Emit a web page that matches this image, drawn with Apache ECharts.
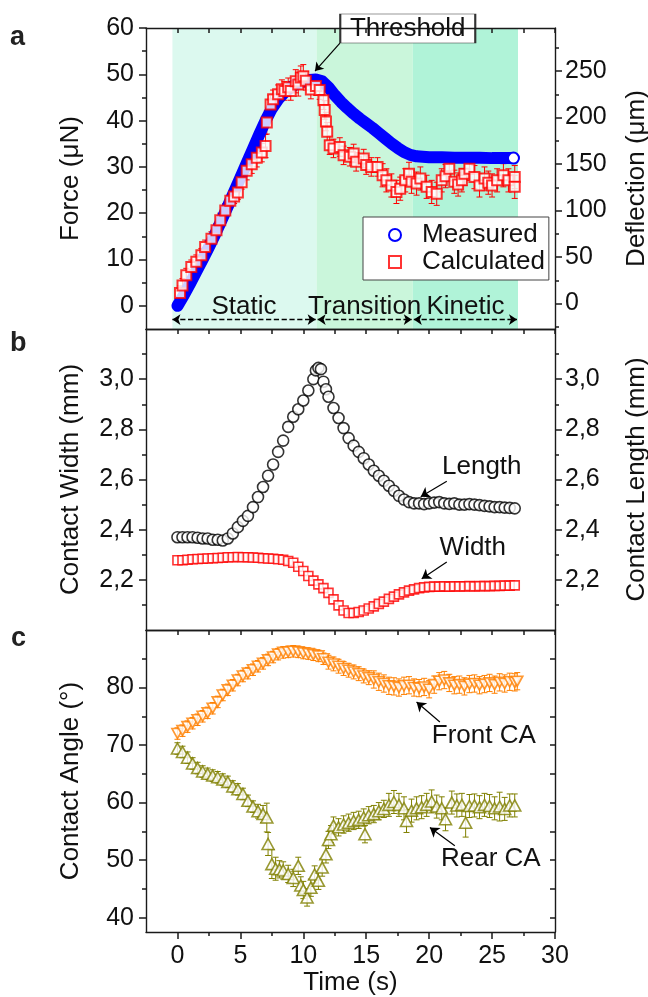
<!DOCTYPE html>
<html><head><meta charset="utf-8">
<script src="https://cdn.jsdelivr.net/npm/echarts@6.0.0/dist/echarts.min.js"></script>
<style>html,body{margin:0;padding:0;background:#fff}#c{width:648px;height:997px}</style>
</head><body><div id="c"></div>
<script>
// ---------- data ----------
const timeTicks = [0, 5, 10, 15, 20, 25, 30];
const timeMinor = [2.5, 7.5, 12.5, 17.5, 22.5, 27.5];
const forceTicks = [0, 10, 20, 30, 40, 50, 60];
const forceMinor = [5, 15, 25, 35, 45, 55];
const deflTicks = [0, 50, 100, 150, 200, 250];
const deflMinor = [-25, 25, 75, 125, 175, 225, 275];
const contactTicks = [2.2, 2.4, 2.6, 2.8, 3.0];
const contactMinor = [2.1, 2.3, 2.5, 2.7, 2.9, 3.1];
const angleTicks = [40, 50, 60, 70, 80];
const angleMinor = [45, 55, 65, 75, 85];

const phaseNames = ['Static', 'Transition', 'Kinetic'];
const phaseStart = [-0.4, 11.06, 18.7];
const phaseEnd = [11.06, 18.7, 27.06];

const measuredT = [0,0.5,1,1.5,2,2.5,3,3.5,4,4.5,5,5.5,6,6.5,7,7.5,8,8.5,9,9.5,10,10.5,11,11.5,12,12.5,13,13.5,14,14.5,15,15.5,16,16.5,17,17.5,18,18.5,19,19.5,20,21,22,23,24,25,26,26.7];
const measuredF = [0,2.3,4.8,7.4,10,12.7,15.5,18.5,21.5,24.6,27.7,30.8,33.9,37.0,40.0,42.6,44.6,46.1,47.2,48.0,48.5,48.8,48.9,48.5,47.2,45.5,44.0,42.7,41.5,40.4,39.4,38.4,37.3,36.2,35.1,34.1,33.2,32.6,32.3,32.2,32.1,32.1,32.0,32.0,32.0,31.9,31.9,31.9];

// [time, force, error]
const calcData = [
[0.2,2.8,1.5],[0.4,4.4,1.5],[0.7,6.6,1.5],[1.1,8.4,1.5],[1.5,9.5,1.5],[1.9,10.9,1.5],[2.2,12.7,1.5],[2.7,14.5,1.5],[3.1,16.3,1.5],[3.4,18.5,1.5],[3.8,20.6,1.5],[4.2,22.7,1.5],[4.5,23.6,1.5],[4.8,24.5,1.5],[5.1,26.7,1.5],[5.5,29.2,2],[5.9,30.6,2],[6.3,32.0,2],[6.7,33.1,2],[7.0,34.5,2.5],[7.1,39.6,2.5],[7.4,43.5,2],[7.6,44.6,2],[8.0,45.7,2],[8.3,46.8,2],[8.5,46.4,2],[8.8,47.2,2],[9.0,46.4,2],[9.4,48.5,2.5],[9.6,47.8,2.5],[9.8,49.3,2.5],[10.0,49.6,2.5],[10.2,48.6,2],[10.6,46.7,2],[11.0,47.5,2],[11.3,46.6,2],[11.6,44.4,2],[11.7,42.3,2],[11.8,39.8,2],[11.9,37.6,2],[12.1,34.7,2],[12.4,34.0,2],[12.9,34.3,2],[13.2,32.5,2],[13.7,32.2,2],[14.0,32.9,2],[14.2,31.1,2],[14.8,31.8,2],[15.0,30.4,2],[15.4,30.0,2],[15.9,30.0,2],[16.3,28.2,2.5],[16.6,27.1,2.5],[17.0,26.0,2.5],[17.4,24.6,2.5],[17.7,25.3,2.5],[18.1,27.1,2.5],[18.4,28.5,2.5],[18.6,26.8,2.5],[19.0,26.4,2.5],[19.3,27.5,2.5],[19.8,25.7,2.5],[20.2,24.6,2.5],[20.6,24.2,2.5],[21.0,27.1,2.5],[21.3,28.0,2.5],[21.6,29.6,2.5],[22.0,26.8,2.5],[22.3,26.2,2.5],[22.6,27.1,2.5],[22.8,28.5,2.5],[23.2,29.6,2.5],[23.6,27.8,2.5],[24.0,26.0,2.5],[24.4,27.5,2.5],[24.7,26.6,2.5],[25.0,26.0,2.5],[25.4,27.1,2.5],[25.9,28.2,2.5],[26.3,27.1,2.5],[26.8,27.8,2.5],[26.8,25.7,2.5]
];

// [time, mm]
const lengthData = [
[0,2.37],[0.4,2.37],[0.8,2.37],[1.2,2.37],[1.6,2.368],[2.0,2.365],[2.4,2.365],[2.8,2.36],[3.2,2.36],[3.6,2.357],[4.0,2.365],[4.4,2.385],[4.8,2.41],[5.2,2.435],[5.6,2.455],[6.0,2.49],[6.4,2.53],[6.8,2.57],[7.2,2.615],[7.6,2.66],[8.0,2.71],[8.4,2.755],[8.8,2.81],[9.2,2.85],[9.6,2.88],[10.0,2.915],[10.4,2.955],[10.8,3.0],[11.0,3.035],[11.2,3.045],[11.4,3.04],[11.6,2.99],[11.8,2.96],[12.0,2.93],[12.4,2.885],[12.8,2.845],[13.2,2.805],[13.6,2.765],[14.0,2.735],[14.4,2.71],[14.8,2.685],[15.2,2.66],[15.6,2.635],[16.0,2.615],[16.4,2.595],[16.8,2.575],[17.2,2.555],[17.6,2.535],[18.0,2.52],[18.4,2.51],[18.8,2.505],[19.2,2.505],[19.6,2.502],[20.0,2.505],[20.4,2.508],[20.8,2.51],[21.2,2.505],[21.6,2.503],[22.0,2.505],[22.4,2.5],[22.8,2.5],[23.2,2.502],[23.6,2.5],[24.0,2.498],[24.4,2.495],[24.8,2.493],[25.2,2.49],[25.6,2.49],[26.0,2.488],[26.4,2.487],[26.8,2.485]
];
const widthData = [
[0,2.278],[0.4,2.278],[0.8,2.28],[1.2,2.282],[1.6,2.283],[2.0,2.284],[2.4,2.285],[2.8,2.286],[3.2,2.287],[3.6,2.288],[4.0,2.29],[4.4,2.29],[4.8,2.291],[5.2,2.29],[5.6,2.29],[6.0,2.289],[6.4,2.288],[6.8,2.286],[7.2,2.285],[7.6,2.284],[8.0,2.282],[8.4,2.28],[8.8,2.275],[9.2,2.268],[9.6,2.252],[10.0,2.235],[10.4,2.215],[10.8,2.197],[11.2,2.182],[11.6,2.167],[12.0,2.148],[12.4,2.122],[12.8,2.098],[13.2,2.078],[13.6,2.068],[14.0,2.068],[14.4,2.072],[14.8,2.078],[15.2,2.086],[15.6,2.094],[16.0,2.104],[16.4,2.113],[16.8,2.124],[17.2,2.133],[17.6,2.142],[18.0,2.15],[18.4,2.157],[18.8,2.162],[19.2,2.167],[19.6,2.17],[20.0,2.172],[20.4,2.173],[20.8,2.173],[21.2,2.174],[21.6,2.173],[22.0,2.174],[22.4,2.174],[22.8,2.174],[23.2,2.175],[23.6,2.174],[24.0,2.175],[24.4,2.175],[24.8,2.175],[25.2,2.176],[25.6,2.176],[26.0,2.177],[26.4,2.177],[26.8,2.178]
];

// [time, degrees, error]
const frontData = [
[0,72.0,1],[0.4,72.5,1],[0.8,73.2,1],[1.2,73.8,1],[1.6,74.4,1],[2.0,75.0,1],[2.4,75.6,1],[2.8,76.4,1],[3.2,77.5,1],[3.6,78.7,1],[4.0,79.6,1],[4.4,80.4,1],[4.8,81.3,1],[5.2,82.0,1],[5.6,82.5,1],[6.0,83.1,1],[6.4,83.7,1],[6.8,84.2,1],[7.2,84.8,1],[7.6,85.3,1],[8.0,85.8,1],[8.4,86.1,1],[8.8,86.2,1],[9.2,86.3,1],[9.6,86.2,1],[10.0,86.0,1],[10.4,85.9,1],[10.8,85.7,1],[11.2,85.5,1],[11.6,85.0,1],[12.0,84.4,1.2],[12.4,84.1,1.2],[12.8,83.7,1.2],[13.2,83.3,1.2],[13.6,83.0,1.2],[14.0,82.7,1.2],[14.4,82.4,1.2],[14.8,82.0,1.2],[15.2,81.7,1.2],[15.6,81.4,1.5],[16.0,81.0,1.5],[16.4,80.7,1.5],[16.8,80.3,1.5],[17.2,80.2,1.5],[17.6,80.0,1.5],[18.0,80.3,1.5],[18.4,80.4,1.5],[18.8,80.0,1.5],[19.2,79.9,1.5],[19.6,80.1,1.5],[20.0,79.7,1.5],[20.4,80.5,1.5],[20.8,81.1,1.5],[21.2,81.3,1.5],[21.6,80.8,1.5],[22.0,80.4,1.5],[22.4,80.5,1.5],[22.8,80.2,1.5],[23.2,80.6,1.5],[23.6,80.7,1.5],[24.0,80.4,1.5],[24.4,80.6,1.5],[24.8,80.8,1.5],[25.2,80.5,1.5],[25.6,80.9,1.5],[26.0,80.7,1.5],[26.4,81.0,1.5],[26.8,80.9,1.5],[27.0,81.1,1.5]
];
const rearData = [
[0,69.4,1],[0.4,68.8,1],[0.8,67.8,1],[1.2,66.8,1],[1.6,66.0,1],[2.0,65.4,1],[2.4,65.0,1],[2.8,64.7,1],[3.2,64.4,1],[3.6,64.0,1],[4.0,63.6,1],[4.4,62.8,1],[4.8,62.3,1],[5.2,61.5,1],[5.6,60.3,1],[6.0,59.3,1],[6.4,58.5,1.2],[6.8,58.0,1.5],[7.1,57.4,2.5],[7.2,52.8,2],[7.5,49.3,2.5],[7.8,48.5,2],[8.1,48.4,1.5],[8.4,48.2,1.5],[8.8,47.6,1.5],[9.2,46.9,1.5],[9.6,49.0,1.5],[9.8,45.6,1.5],[10.0,44.8,1.5],[10.3,43.5,1.5],[10.6,45.2,1.5],[10.9,47.5,1.5],[11.2,46.4,1.5],[11.5,48.7,1.5],[11.8,51.0,1.5],[12.0,53.5,1.5],[12.2,54.5,1.5],[12.4,56.0,1.5],[12.8,55.7,1.5],[13.2,56.2,1.5],[13.6,56.5,1.5],[14.0,56.8,1.5],[14.4,57.0,1.5],[14.8,57.4,1.5],[14.9,54.5,1.5],[15.2,57.8,1.5],[15.6,58.0,1.5],[16.0,58.5,1.5],[16.4,58.9,1.5],[16.8,59.6,2],[17.2,60.1,2],[17.6,59.6,2],[18.0,59.0,2],[18.2,56.8,2],[18.6,58.6,2],[19.0,59.0,2],[19.4,59.2,2],[19.8,59.6,2],[20.2,60.2,2],[20.6,59.3,2],[21.0,59.0,2],[21.3,57.1,2],[21.8,60.0,2],[22.2,59.5,2],[22.6,59.6,2],[22.9,56.5,2.5],[23.2,59.4,2],[23.6,59.5,2],[24.0,59.2,2],[24.4,59.6,2],[24.8,59.4,2],[25.2,59.0,2],[25.6,59.3,2.5],[26.0,58.9,2],[26.4,59.5,2],[26.8,59.5,2]
];

// ---------- style ----------
const FONT = '"Liberation Sans", Arial, Helvetica, sans-serif';
const AX = '#1a1a1a';
const TXT = '#111';
const BLUE = '#0000ff', RED = '#ff0000', ORANGE = '#ff8000', OLIVE = '#808000';
const phaseColors = ['#dcf9ef', '#caf6db', '#b0f3d8'];
const X_MIN = -2.5, X_MAX = 30;
const F_MIN = -5, F_MAX = 60;
const D_MIN = -27.4, D_MAX = 296.3;
const C_MIN = 2.0, C_MAX = 3.2;
const A_MIN = 37.5, A_MAX = 90;

const grids = [
  {left: 146, right: 93, top: 28, height: 301, outerBoundsMode: 'none', containLabel: false},
  {left: 146, right: 93, top: 329, height: 301, outerBoundsMode: 'none', containLabel: false},
  {left: 146, right: 93, top: 630, height: 302, outerBoundsMode: 'none', containLabel: false}
];

function axisBase(extra) {
  return Object.assign({
    type: 'value', z: 5, splitLine: {show: false},
    axisLine: {show: true, onZero: false, lineStyle: {color: AX, width: 1.4}},
    axisTick: {show: false}, axisLabel: {show: false}
  }, extra);
}
const hiddenLine = {show: false, onZero: false};
function ticks(vals, len, inside) {
  return {show: true, inside: !!inside, length: len, customValues: vals, lineStyle: {color: AX, width: 1.5}};
}
function labels(vals, fmt, margin) {
  return {show: true, customValues: vals, fontSize: 25, fontFamily: FONT, color: TXT, margin: margin, formatter: fmt};
}
const nameStyle = {fontSize: 26, fontFamily: FONT, color: TXT};
const comma = v => v.toFixed(1).replace('.', ',');

const xAxes = [], yAxes = [];
const XI = [], YL = [], YR = [];
for (let g = 0; g < 3; g++) {
  XI[g] = xAxes.length;
  const bottom = axisBase({gridIndex: g, min: X_MIN, max: X_MAX, position: 'bottom'});
  if (g === 2) {
    bottom.axisTick = ticks(timeTicks, 7, false);
    bottom.axisLabel = labels(timeTicks, v => String(v), 12);
    bottom.name = 'Time (s)';
    bottom.nameLocation = 'middle';
    bottom.nameGap = 36;
    bottom.nameTextStyle = nameStyle;
  }
  xAxes.push(bottom);
  if (g === 2) {
    xAxes.push(axisBase({gridIndex: g, min: X_MIN, max: X_MAX, position: 'bottom', axisLine: hiddenLine, axisTick: ticks(timeMinor, 4, false)}));
  }
  xAxes.push(axisBase({gridIndex: g, min: X_MIN, max: X_MAX, position: 'top', axisTick: ticks(timeTicks.concat(timeMinor), 5, true)}));
}

// panel a
YL[0] = yAxes.length;
yAxes.push(axisBase({gridIndex: 0, min: F_MIN, max: F_MAX, position: 'left', axisTick: ticks(forceTicks, 7), axisLabel: labels(forceTicks, v => String(v), 12),
  name: 'Force (\u03bcN)', nameLocation: 'middle', nameGap: 62, nameRotate: 90, nameTextStyle: nameStyle}));
yAxes.push(axisBase({gridIndex: 0, min: F_MIN, max: F_MAX, position: 'left', axisLine: hiddenLine, axisTick: ticks(forceMinor, 4)}));
YR[0] = yAxes.length;
yAxes.push(axisBase({gridIndex: 0, min: D_MIN, max: D_MAX, position: 'right', axisTick: ticks(deflTicks, 7), axisLabel: labels(deflTicks, v => String(v), 10),
  name: 'Deflection (\u03bcm)', nameLocation: 'middle', nameGap: 69, nameRotate: 90, nameTextStyle: nameStyle}));
yAxes.push(axisBase({gridIndex: 0, min: D_MIN, max: D_MAX, position: 'right', axisLine: hiddenLine, axisTick: ticks(deflMinor, 4)}));
// panel b
YL[1] = yAxes.length;
yAxes.push(axisBase({gridIndex: 1, min: C_MIN, max: C_MAX, position: 'left', axisTick: ticks(contactTicks, 7), axisLabel: labels(contactTicks, comma, 12),
  name: 'Contact Width (mm)', nameLocation: 'middle', nameGap: 62, nameRotate: 90, nameTextStyle: nameStyle}));
yAxes.push(axisBase({gridIndex: 1, min: C_MIN, max: C_MAX, position: 'left', axisLine: hiddenLine, axisTick: ticks(contactMinor, 4)}));
YR[1] = yAxes.length;
yAxes.push(axisBase({gridIndex: 1, min: C_MIN, max: C_MAX, position: 'right', axisTick: ticks(contactTicks, 7), axisLabel: labels(contactTicks, comma, 10),
  name: 'Contact Length (mm)', nameLocation: 'middle', nameGap: 69, nameRotate: 90, nameTextStyle: nameStyle}));
yAxes.push(axisBase({gridIndex: 1, min: C_MIN, max: C_MAX, position: 'right', axisLine: hiddenLine, axisTick: ticks(contactMinor, 4)}));
// panel c
YL[2] = yAxes.length;
yAxes.push(axisBase({gridIndex: 2, min: A_MIN, max: A_MAX, position: 'left', axisTick: ticks(angleTicks, 7), axisLabel: labels(angleTicks, v => String(v), 12),
  name: 'Contact Angle (\u00b0)', nameLocation: 'middle', nameGap: 62, nameRotate: 90, nameTextStyle: nameStyle}));
yAxes.push(axisBase({gridIndex: 2, min: A_MIN, max: A_MAX, position: 'left', axisLine: hiddenLine, axisTick: ticks(angleMinor, 4)}));
YR[2] = yAxes.length;
yAxes.push(axisBase({gridIndex: 2, min: A_MIN, max: A_MAX, position: 'right', axisTick: ticks(angleTicks.concat(angleMinor), 5, true)}));

function errSeries(data, g, yi, color, cap) {
  return {
    type: 'custom', xAxisIndex: XI[g], yAxisIndex: yi, silent: true, z: 2,
    data: data,
    renderItem: function (p, api) {
      const x = api.value(0), y = api.value(1), e = api.value(2);
      const lo = api.coord([x, y - e]), hi = api.coord([x, y + e]);
      const st = {stroke: color, lineWidth: 1};
      return {type: 'group', children: [
        {type: 'line', shape: {x1: lo[0], y1: lo[1], x2: hi[0], y2: hi[1]}, style: st},
        {type: 'line', shape: {x1: hi[0] - cap, y1: hi[1], x2: hi[0] + cap, y2: hi[1]}, style: st},
        {type: 'line', shape: {x1: lo[0] - cap, y1: lo[1], x2: lo[0] + cap, y2: lo[1]}, style: st}
      ]};
    }
  };
}
const annLabel = {show: true, position: 'inside', fontSize: 26, fontFamily: FONT, color: TXT};
function textPoint(text, coord) {
  return {coord: coord, symbol: 'rect', symbolSize: [1, 1], itemStyle: {color: 'rgba(0,0,0,0)'}, label: Object.assign({formatter: text}, annLabel)};
}
function arrowLine(from, to) {
  return [{coord: from, symbol: 'none', label: {show: false}}, {coord: to, symbol: 'arrow'}];
}
const solidArrowLine = {silent: true, animation: false, symbolSize: 9, lineStyle: {color: '#000', width: 1.2, type: 'solid'}, label: {show: false}};

const measuredData = measuredT.map((t, i) => i === measuredT.length - 1
  ? {value: [t, measuredF[i]], symbol: 'circle', symbolSize: 11}
  : [t, measuredF[i]]);

const DOWN_TRI = 'path://M0,0 L10,0 L5,8.66 Z';

const series = [
  // phase shading
  {
    type: 'custom', xAxisIndex: XI[0], yAxisIndex: YL[0], silent: true, z: 1,
    data: phaseStart.map((s, i) => [s, phaseEnd[i], i]),
    renderItem: function (p, api) {
      const a = api.coord([api.value(0), F_MAX]);
      const b = api.coord([api.value(1), F_MIN]);
      return {type: 'rect', shape: {x: a[0], y: a[1], width: b[0] - a[0], height: b[1] - a[1]}, style: {fill: phaseColors[api.value(2)]}};
    }
  },
  {
    name: 'Measured', type: 'line', xAxisIndex: XI[0], yAxisIndex: YL[0], z: 2,
    data: measuredData, symbol: 'none', showSymbol: true,
    lineStyle: {color: BLUE, width: 12, cap: 'round', join: 'round'},
    itemStyle: {color: '#fff', borderColor: BLUE, borderWidth: 2}
  },
  errSeries(calcData, 0, YL[0], RED, 3),
  {
    name: 'Calculated', type: 'scatter', xAxisIndex: XI[0], yAxisIndex: YL[0], z: 3,
    data: calcData.map(d => [d[0], d[1]]), symbol: 'rect', symbolSize: 10,
    itemStyle: {color: '#fff', borderColor: RED, borderWidth: 2},
    markLine: {
      silent: true, animation: false, symbol: ['arrow', 'arrow'], symbolSize: 8,
      lineStyle: {color: '#000', width: 1.3, type: 'dashed'},
      label: {show: true, position: 'middle', formatter: '{b}', fontSize: 26, fontFamily: FONT, color: TXT, distance: 0},
      data: phaseNames.map((n, i) => [{name: n, coord: [phaseStart[i] + (i ? 0.08 : 0), -2.96]}, {coord: [phaseEnd[i] - 0.08, -2.96]}]).concat([
        [{coord: [12.91, 56.75], symbol: 'none', lineStyle: {type: 'solid', width: 1.2}, label: {show: false}}, {coord: [10.93, 50.7], symbol: 'arrow'}]
      ])
    },
    markPoint: {
      silent: true, animation: false,
      data: [{coord: [18.3, 59.9], symbol: 'rect', symbolSize: [135, 29], itemStyle: {color: '#fff', borderColor: '#333', borderWidth: 1},
        label: Object.assign({formatter: 'Threshold'}, annLabel)}]
    }
  },
  // panel b
  {
    name: 'Width', type: 'scatter', xAxisIndex: XI[1], yAxisIndex: YL[1], z: 3,
    data: widthData, symbol: 'rect', symbolSize: 9,
    itemStyle: {color: '#fff', borderColor: RED, borderWidth: 1.6},
    markPoint: {silent: true, animation: false, data: [textPoint('Width', [23.47, 2.327])]},
    markLine: Object.assign({data: [arrowLine([21.4, 2.271], [19.41, 2.204])]}, solidArrowLine)
  },
  {
    name: 'Length', type: 'scatter', xAxisIndex: XI[1], yAxisIndex: YR[1], z: 3,
    data: lengthData, symbol: 'circle', symbolSize: 11,
    itemStyle: {color: '#fff', borderColor: '#000', borderWidth: 1.6},
    markPoint: {silent: true, animation: false, data: [textPoint('Length', [24.18, 2.649])]},
    markLine: Object.assign({data: [arrowLine([21.4, 2.593], [19.33, 2.531])]}, solidArrowLine)
  },
  // panel c
  errSeries(frontData, 2, YL[2], ORANGE, 3),
  {
    name: 'Front CA', type: 'scatter', xAxisIndex: XI[2], yAxisIndex: YL[2], z: 3,
    data: frontData.map(d => [d[0], d[1]]), symbol: DOWN_TRI, symbolSize: [11, 10],
    itemStyle: {color: '#fff', borderColor: ORANGE, borderWidth: 1.7},
    markPoint: {silent: true, animation: false, data: [textPoint('Front CA', [24.34, 71.68])]},
    markLine: Object.assign({data: [arrowLine([20.85, 74.0], [19.0, 77.49])]}, solidArrowLine)
  },
  errSeries(rearData, 2, YL[2], OLIVE, 3),
  {
    name: 'Rear CA', type: 'scatter', xAxisIndex: XI[2], yAxisIndex: YL[2], z: 3,
    data: rearData.map(d => [d[0], d[1]]), symbol: 'triangle', symbolSize: [12, 11],
    itemStyle: {color: '#fff', borderColor: OLIVE, borderWidth: 1.6},
    markPoint: {silent: true, animation: false, data: [textPoint('Rear CA', [24.9, 50.2])]},
    markLine: Object.assign({data: [arrowLine([22.04, 52.48], [20.06, 55.67])]}, solidArrowLine)
  }
];

const chart = echarts.init(document.getElementById('c'), null, {renderer: 'canvas'});
chart.setOption({
  animation: false,
  backgroundColor: '#fff',
  textStyle: {fontFamily: FONT},
  grid: grids,
  xAxis: xAxes,
  yAxis: yAxes,
  legend: {
    left: 363, top: 217, orient: 'vertical', backgroundColor: '#fff', borderColor: '#444', borderWidth: 1,
    padding: [5, 4, 5, 25], itemGap: 1, itemWidth: 12, itemHeight: 12, selectedMode: false,
    textStyle: {fontSize: 26, fontFamily: FONT, color: TXT, padding: [0, 0, 0, 16]},
    data: [
      {name: 'Measured', icon: 'circle', itemStyle: {color: '#fff', borderColor: BLUE, borderWidth: 2}},
      {name: 'Calculated', icon: 'rect', itemStyle: {color: '#fff', borderColor: RED, borderWidth: 2}}
    ]
  },
  graphic: [
    {type: 'text', left: 10, top: 24, style: {text: 'a', font: 'bold 27px ' + FONT, fill: '#222'}},
    {type: 'text', left: 10, top: 330, style: {text: 'b', font: 'bold 27px ' + FONT, fill: '#222'}},
    {type: 'text', left: 11, top: 625, style: {text: 'c', font: 'bold 27px ' + FONT, fill: '#222'}}
  ],
  series: series
});
</script></body></html>
